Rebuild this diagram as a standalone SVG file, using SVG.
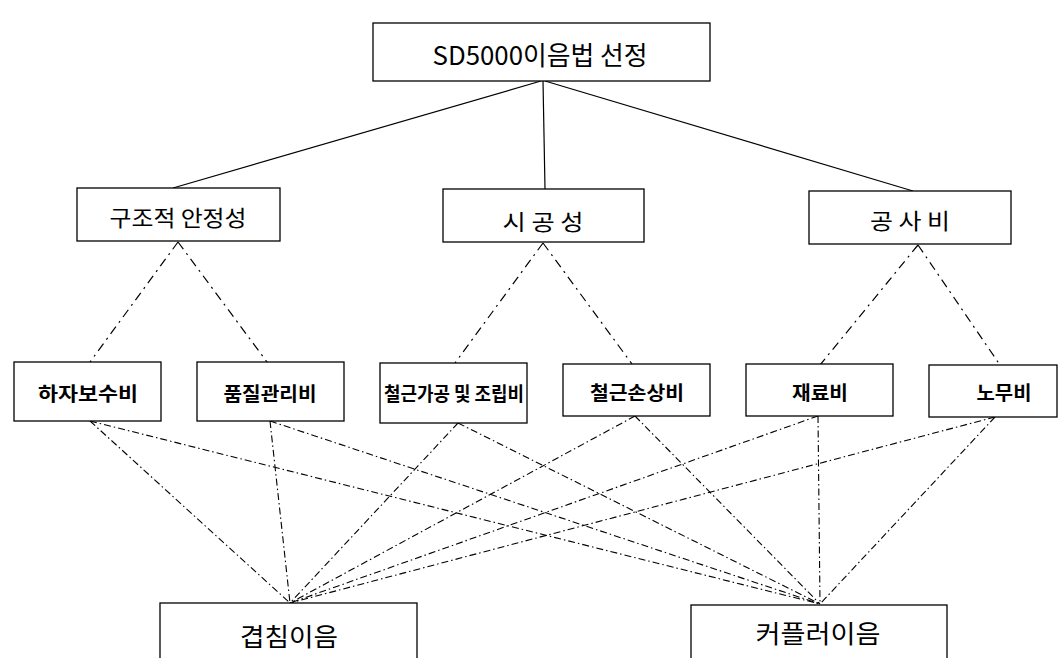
<svg xmlns="http://www.w3.org/2000/svg" width="1064" height="658" viewBox="0 0 1064 658">
<style>
.box{fill:#fff;stroke:#000;stroke-width:1.3}
.t{font-family:"Noto Sans CJK KR","Noto Sans",sans-serif;fill:#000;text-anchor:middle}
.t1{font-size:26px}
.t2{font-size:22px}
.t3{font-size:19px;font-weight:bold}
.t4{font-size:25px}
.solid{stroke:#000;stroke-width:1.2;fill:none}
.dd{stroke:#000;stroke-width:1.2;fill:none;stroke-dasharray:9 5 2 5}
.dl{stroke:#000;stroke-width:1.1;fill:none;stroke-dasharray:7 3 1.5 3}
</style>
<rect width="1064" height="658" fill="#fff"/>
<g id="connectors">
<line class="solid" x1="541" y1="81" x2="173" y2="188"/>
<line class="solid" x1="543" y1="81" x2="545" y2="189"/>
<line class="solid" x1="545" y1="81" x2="913" y2="191"/>
<line class="dd" x1="178" y1="242" x2="90" y2="362"/>
<line class="dd" x1="178" y1="242" x2="267" y2="362"/>
<line class="dd" x1="543" y1="243" x2="455" y2="363"/>
<line class="dd" x1="543" y1="243" x2="632" y2="364"/>
<line class="dd" x1="918" y1="245" x2="820" y2="365"/>
<line class="dd" x1="918" y1="245" x2="1000" y2="365"/>
<line class="dl" x1="90" y1="421" x2="290" y2="603"/>
<line class="dl" x1="90" y1="421" x2="820" y2="604"/>
<line class="dl" x1="270" y1="421" x2="290" y2="603"/>
<line class="dl" x1="270" y1="421" x2="820" y2="604"/>
<line class="dl" x1="458" y1="423" x2="290" y2="603"/>
<line class="dl" x1="458" y1="423" x2="820" y2="604"/>
<line class="dl" x1="635" y1="416" x2="290" y2="603"/>
<line class="dl" x1="635" y1="416" x2="820" y2="604"/>
<line class="dl" x1="818" y1="416" x2="290" y2="603"/>
<line class="dl" x1="818" y1="416" x2="820" y2="604"/>
<line class="dl" x1="995" y1="417" x2="290" y2="603"/>
<line class="dl" x1="995" y1="417" x2="820" y2="604"/>
</g>
<g id="n-root"><rect class="box" x="373" y="23" width="337" height="58"/><text class="t t1" x="540" y="65" textLength="215" lengthAdjust="spacingAndGlyphs">SD5000이음법 선정</text></g>
<g id="n-struct"><rect class="box" x="77" y="188" width="203" height="53"/><text class="t t2" x="178" y="226" textLength="137" lengthAdjust="spacingAndGlyphs">구조적 안정성</text></g>
<g id="n-const"><rect class="box" x="443" y="189" width="201" height="53"/><text class="t t2" x="543" y="230" textLength="81" lengthAdjust="spacingAndGlyphs">시 공 성</text></g>
<g id="n-cost"><rect class="box" x="809" y="191" width="202" height="53"/><text class="t t2" x="910" y="229" textLength="80" lengthAdjust="spacingAndGlyphs">공 사 비</text></g>
<g id="n-a"><rect class="box" x="14" y="362" width="147" height="59"/><text class="t t3" x="88" y="401" textLength="100" lengthAdjust="spacingAndGlyphs">하자보수비</text></g>
<g id="n-b"><rect class="box" x="197" y="362" width="147" height="59"/><text class="t t3" x="270" y="401" textLength="93" lengthAdjust="spacingAndGlyphs">품질관리비</text></g>
<g id="n-c"><rect class="box" x="380" y="363" width="147" height="60"/><text class="t t3" x="454" y="401" textLength="140" lengthAdjust="spacingAndGlyphs">철근가공 및 조립비</text></g>
<g id="n-d"><rect class="box" x="563" y="364" width="147" height="52"/><text class="t t3" x="637" y="400" textLength="94" lengthAdjust="spacingAndGlyphs">철근손상비</text></g>
<g id="n-e"><rect class="box" x="746" y="364" width="147" height="52"/><text class="t t3" x="820" y="400" textLength="56" lengthAdjust="spacingAndGlyphs">재료비</text></g>
<g id="n-f"><rect class="box" x="929" y="365" width="128" height="52"/><text class="t t3" x="1004" y="400" textLength="55" lengthAdjust="spacingAndGlyphs">노무비</text></g>
<g id="n-lap"><rect class="box" x="160" y="603" width="257" height="70"/><text class="t t4" x="289" y="646" textLength="98" lengthAdjust="spacingAndGlyphs">겹침이음</text></g>
<g id="n-coupler"><rect class="box" x="691" y="605" width="256" height="70"/><text class="t t4" x="818" y="643" textLength="125" lengthAdjust="spacingAndGlyphs">커플러이음</text></g>
</svg>
